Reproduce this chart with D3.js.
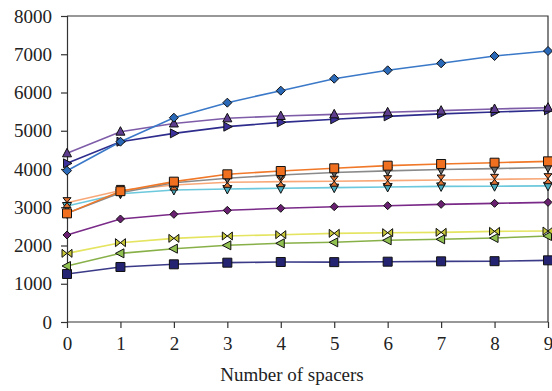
<!DOCTYPE html>
<html>
<head>
<meta charset="utf-8">
<script src="https://cdn.jsdelivr.net/npm/d3@7"></script>
<style>
  body { margin: 0; background: #fff; }
  svg text { font-family: "Liberation Serif", "DejaVu Serif", serif !important; }
</style>
</head>
<body>
<div id="chart"></div>
<script>
var spacers = [0, 1, 2, 3, 4, 5, 6, 7, 8, 9];
var yTicks = [0, 1000, 2000, 3000, 4000, 5000, 6000, 7000, 8000];

var blueDiamond   = [3956, 4714, 5341, 5734, 6048, 6361, 6580, 6763, 6954, 7085];
var purpleTri     = [4410, 4976, 5190, 5325, 5386, 5429, 5482, 5525, 5569, 5603];
var navyRight     = [4148, 4714, 4932, 5107, 5220, 5300, 5377, 5440, 5490, 5534];
var orangeSquare  = [2840, 3420, 3669, 3861, 3948, 4018, 4087, 4131, 4165, 4200];
var grayDown      = [2840, 3380, 3640, 3757, 3843, 3910, 3950, 3985, 4010, 4040];
var salmonHour    = [3120, 3440, 3582, 3652, 3669, 3680, 3695, 3712, 3730, 3747];
var cyanDown      = [3033, 3353, 3451, 3477, 3495, 3512, 3530, 3545, 3550, 3560];
var purpleDiamond = [2275, 2693, 2815, 2920, 2972, 3015, 3041, 3076, 3102, 3128];
var yellowBow     = [1795, 2074, 2187, 2248, 2283, 2318, 2335, 2344, 2370, 2379];
var greenLeft     = [1464, 1795, 1917, 2005, 2057, 2083, 2136, 2162, 2196, 2248];
var navySquare    = [1255, 1438, 1508, 1551, 1569, 1565, 1577, 1586, 1590, 1612];

var svgwidth = 552, svgheight = 391;
var margin = {top: 16, right: 4, bottom: 69, left: 67};
var width = svgwidth - margin.left - margin.right,
    height = svgheight - margin.top - margin.bottom;

// marker shapes, centred at 0,0
var shapes = {
  diamond: 'M0,-4.5L4.5,0L0,4.5L-4.5,0Z',
  smallDiamond: 'M0,-4L4,0L0,4L-4,0Z',
  up: 'M0,-5L4.5,3.5L-4.5,3.5Z',
  down: 'M0,5L4.5,-3.5L-4.5,-3.5Z',
  right: 'M5,0L-3.5,-4.5L-3.5,4.5Z',
  left: 'M-5,0L3.5,-4.5L3.5,4.5Z',
  square: 'M-4.5,-4.5H4.5V4.5H-4.5Z',
  hourV: 'M-4,-5H4L-4,5H4Z',
  bowH: 'M-5,-4V4L5,-4V4Z'
};

var series = [
  {values: navySquare,    line: '#3a3a88', fill: '#232372', shape: 'square'},
  {values: greenLeft,     line: '#88b048', fill: '#90c050', shape: 'left'},
  {values: yellowBow,     line: '#e4e460', fill: '#c8c838', shape: 'bowH'},
  {values: purpleDiamond, line: '#7a2a88', fill: '#6a2070', shape: 'smallDiamond'},
  {values: cyanDown,      line: '#6cc8dc', fill: '#4aacbe', shape: 'down'},
  {values: salmonHour,    line: '#f8a878', fill: '#e07030', shape: 'hourV'},
  {values: grayDown,      line: '#8a8a8a', fill: '#6a6a6a', shape: 'down'},
  {values: orangeSquare,  line: '#f07828', fill: '#f07020', shape: 'square'},
  {values: navyRight,     line: '#2e2c8c', fill: '#3c309a', shape: 'right'},
  {values: purpleTri,     line: '#7e5ca8', fill: '#5e3c8e', shape: 'up'},
  {values: blueDiamond,   line: '#3a78c8', fill: '#2a68b8', shape: 'diamond'}
];

var svg = d3.select('#chart')
  .append('svg')
    .attr('width', svgwidth)
    .attr('height', svgheight);

var x = d3.scaleLinear().domain([0, 9]).range([0, width]);
var y = d3.scaleLinear().domain([0, 8000]).range([height, 0]);

var focus = svg.append('g')
  .attr('transform', 'translate(' + margin.left + ',' + margin.top + ')');

// frame top and right
focus.append('path')
  .attr('d', 'M0,0H' + width + 'V' + height)
  .attr('fill', 'none')
  .attr('stroke', '#333')
  .attr('stroke-width', 1.2);

var yAxis = d3.axisLeft(y).tickValues(yTicks).tickSize(6).tickPadding(9).tickFormat(d3.format('d'));
var gY = focus.append('g').call(yAxis);
var xAxis = d3.axisBottom(x).tickValues(spacers).tickSize(6).tickPadding(9);
var gX = focus.append('g').attr('transform', 'translate(0,' + height + ')').call(xAxis);

[gY, gX].forEach(function(g) {
  g.attr('font-family', null).attr('font-size', null);
  g.select('.domain').attr('stroke', '#333').attr('stroke-width', 1.2);
  g.selectAll('.tick line').attr('stroke', '#333').attr('stroke-width', 1.2);
  g.selectAll('.tick text')
    .style('font-family', '"Liberation Serif", serif')
    .style('font-size', '19px')
    .attr('fill', '#222');
});
gX.select('.domain').attr('d', 'M0,0H' + width);

svg.append('text')
  .attr('x', 292)
  .attr('y', 381)
  .attr('text-anchor', 'middle')
  .style('font-size', '19px')
  .attr('fill', '#222')
  .text('Number of spacers');

var line = d3.line()
  .x(function(d, i) { return x(spacers[i]); })
  .y(function(d) { return y(d); });

series.forEach(function(s) {
  focus.append('path')
    .datum(s.values)
    .attr('fill', 'none')
    .attr('stroke', s.line)
    .attr('stroke-width', 1.6)
    .attr('d', line);
});

series.forEach(function(s) {
  focus.selectAll(null)
    .data(s.values)
    .enter().append('path')
      .attr('transform', function(d, i) { return 'translate(' + x(spacers[i]) + ',' + y(d) + ')'; })
      .attr('d', shapes[s.shape])
      .attr('fill', s.fill)
      .attr('stroke', '#111')
      .attr('stroke-width', 1);
});
</script>
</body>
</html>
